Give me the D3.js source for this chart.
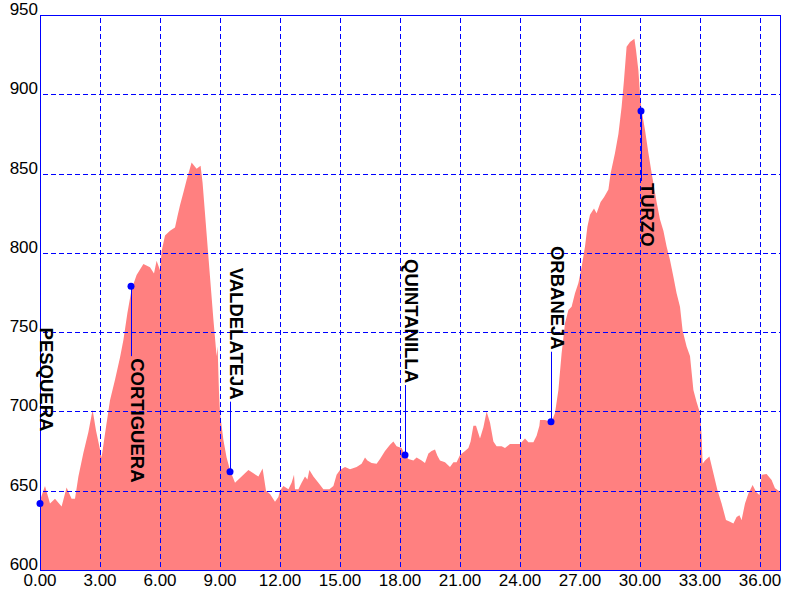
<!DOCTYPE html>
<html>
<head>
<meta charset="utf-8">
<script src="https://cdn.jsdelivr.net/npm/d3@7/dist/d3.min.js"></script>
<style>
  html, body { margin: 0; padding: 0; background: #fff; }
  svg { display: block; }
</style>
</head>
<body>
<svg id="chart" width="800" height="600"></svg>
<script>
// ---- data ----
const distanceKm = [
  0.00, 0.25, 0.50, 0.75, 1.08, 1.33, 1.58, 1.75, 1.92, 2.17, 2.42, 2.63, 2.80, 3.00, 3.08, 3.25,
  3.50, 3.75, 4.00, 4.17, 4.37, 4.58, 4.83, 5.17, 5.50, 5.70, 5.83, 6.00, 6.08, 6.25, 6.50, 6.75,
  6.87, 7.00, 7.17, 7.33, 7.58, 7.83, 8.03, 8.13, 8.33, 8.50, 8.67, 8.83, 8.88, 8.95, 9.00, 9.17,
  9.33, 9.50, 9.75, 10.00, 10.42, 10.67, 10.92, 11.13, 11.30, 11.50, 11.75, 11.92, 12.00, 12.17,
  12.42, 12.58, 12.70, 12.75, 12.92, 13.08, 13.25, 13.37, 13.47, 13.67, 13.92, 14.17, 14.47, 14.67,
  14.83, 15.00, 15.25, 15.50, 15.83, 16.08, 16.25, 16.37, 16.58, 16.83, 17.00, 17.25, 17.50, 17.67,
  17.83, 18.08, 18.25, 18.42, 18.67, 18.83, 19.08, 19.25, 19.42, 19.58, 19.75, 19.87, 20.00, 20.25,
  20.50, 20.67, 20.83, 21.00, 21.25, 21.42, 21.53, 21.67, 21.80, 22.00, 22.17, 22.33, 22.50, 22.67,
  22.83, 23.08, 23.25, 23.50, 23.75, 24.00, 24.25, 24.42, 24.67, 24.83, 24.97, 25.00, 25.25, 25.42,
  25.58, 25.75, 25.92, 26.08, 26.25, 26.42, 26.58, 26.75, 26.92, 27.08, 27.25, 27.37, 27.50, 27.70,
  27.83, 28.03, 28.20, 28.42, 28.53, 28.75, 28.92, 29.08, 29.20, 29.33, 29.50, 29.72, 29.80, 29.92,
  30.00, 30.08, 30.25, 30.42, 30.60, 30.83, 31.00, 31.17, 31.33, 31.50, 31.67, 31.83, 32.00, 32.13,
  32.33, 32.50, 32.67, 32.83, 33.00, 33.08, 33.13, 33.25, 33.47, 33.67, 33.87, 34.08, 34.30, 34.50,
  34.67, 34.83, 34.97, 35.08, 35.25, 35.42, 35.63, 35.80, 35.97, 36.08, 36.33, 36.58, 36.75, 37.00
];
const elevationM = [
  644, 653, 642, 645, 640, 652, 645, 645, 659, 674, 687, 701, 688, 676, 671, 686,
  707, 720, 734, 745, 762, 777, 786, 793, 791, 787, 795, 789, 801, 811, 814, 816,
  823, 830, 838, 846, 857, 853, 855, 844, 812, 785, 758, 735, 741, 712, 699, 682,
  671, 663, 655, 658, 663, 661, 659, 664, 650, 648, 643, 646, 650, 653,
  651, 655, 660, 651, 651, 655, 659, 657, 663, 659, 655, 651, 651, 653,
  660, 663, 665, 663.5, 665, 667, 671, 669, 667.5, 667, 670, 675, 679, 681,
  678, 677, 672.5, 670, 669, 671, 669, 667.5, 673.5, 675, 676, 672, 669, 668,
  665, 668, 668, 672.5, 675, 677, 681, 691, 691, 683, 690, 700, 693, 681,
  678, 678, 677, 679.5, 679.5, 679.5, 683, 680.5, 680.5, 684.6, 691, 694.6, 694.6, 694,
  693.5, 699, 713.5, 736.6, 755.6, 764, 766, 774.5, 781, 791, 804, 816.5, 824, 828,
  825, 832, 835, 840, 850, 863, 875, 892, 909, 930, 933, 935, 928, 915,
  900, 890, 877.5, 863, 849, 832, 821, 814, 804, 795.5, 785, 774.5, 766, 751,
  741, 735, 713.5, 706, 699, 685, 667, 669, 671.5, 661, 650.5, 642, 631.5, 630.4,
  629.3, 633.5, 634.6, 631.5, 642, 648.3, 653.6, 649.4, 647.3, 660, 660.5, 656.7, 651.5, 649.4
];
const placeNames = ["PESQUERA", "CORTIGUERA", "VALDELATEJA", "QUINTANILLA", "ORBANEJA", "TURZO"];
const placeKm = [0.00, 4.55, 9.50, 18.25, 25.55, 30.05];
const placeElev = [642, 779, 662, 672.5, 693.5, 889.5];
const placeAbove = [true, false, true, true, true, false];
const xTicks = [0, 3, 6, 9, 12, 15, 18, 21, 24, 27, 30, 33, 36];
const yTicks = [600, 650, 700, 750, 800, 850, 900, 950];

// ---- chart ----
(function () {
const svg = d3.select("#chart");
const mLeft = 40, mRight = 780, mTop = 15, mBottom = 570;
const x = d3.scaleLinear().domain([0, 37]).range([mLeft, mRight]);
const y = d3.scaleLinear().domain([600, 950]).range([mBottom, mTop]);
const blue = "#0000FF";
const font = "'Liberation Sans', Arial, sans-serif";

const profile = distanceKm.map((d, i) => ({ d, e: elevationM[i] }));

svg.append("path")
  .datum(profile)
  .attr("fill", "#FF8080")
  .attr("d", d3.area().x(p => x(p.d)).y0(y(600)).y1(p => y(p.e)));

// grid
svg.append("g").selectAll("line")
  .data(yTicks.filter(v => v > 600 && v < 950))
  .join("line")
  .attr("x1", mLeft).attr("x2", mRight)
  .attr("y1", v => Math.round(y(v)) + 0.5).attr("y2", v => Math.round(y(v)) + 0.5)
  .attr("stroke", blue).attr("stroke-width", 1).attr("stroke-dasharray", "5,3")
  .attr("stroke-dashoffset", -3);

svg.append("g").selectAll("line")
  .data(xTicks.filter(v => v > 0))
  .join("line")
  .attr("x1", v => Math.round(x(v)) + 0.5).attr("x2", v => Math.round(x(v)) + 0.5)
  .attr("y1", mTop).attr("y2", mBottom)
  .attr("stroke", blue).attr("stroke-width", 1).attr("stroke-dasharray", "5,3")
  .attr("stroke-dashoffset", -3);

// frame
svg.append("rect")
  .attr("x", mLeft + 0.5).attr("y", mTop + 0.5)
  .attr("width", mRight - mLeft).attr("height", mBottom - mTop)
  .attr("fill", "none").attr("stroke", blue).attr("stroke-width", 1);

// tick labels
svg.append("g").selectAll("text")
  .data(yTicks)
  .join("text")
  .attr("x", mLeft - 2)
  .attr("y", v => y(v))
  .attr("text-anchor", "end")
  .attr("font-family", font).attr("font-size", 17)
  .attr("fill", "#000")
  .text(v => v);

svg.append("g").selectAll("text")
  .data(xTicks)
  .join("text")
  .attr("x", v => x(v))
  .attr("y", mBottom + 16)
  .attr("text-anchor", "middle")
  .attr("font-family", font).attr("font-size", 17)
  .attr("fill", "#000")
  .text(v => v.toFixed(2));

// place markers
const offset = 72;
placeNames.forEach((name, i) => {
  const px = x(placeKm[i]);
  const py = y(placeElev[i]);
  const above = placeAbove[i];
  const ly = above ? py - offset : py + offset;
  svg.append("line")
    .attr("x1", Math.round(px) + 0.5).attr("x2", Math.round(px) + 0.5)
    .attr("y1", py).attr("y2", above ? ly + 2 : ly - 2)
    .attr("stroke", blue).attr("stroke-width", 1);
  svg.append("circle")
    .attr("cx", px).attr("cy", py).attr("r", 3.5)
    .attr("fill", blue);
  svg.append("text")
    .attr("transform", `translate(${Math.round(px)},${ly}) rotate(90)`)
    .attr("text-anchor", above ? "end" : "start")
    .attr("font-family", font).attr("font-size", 18.5).attr("font-weight", "bold")
    .attr("fill", "#000")
    .text(name);
});
})();
</script>
</body>
</html>
